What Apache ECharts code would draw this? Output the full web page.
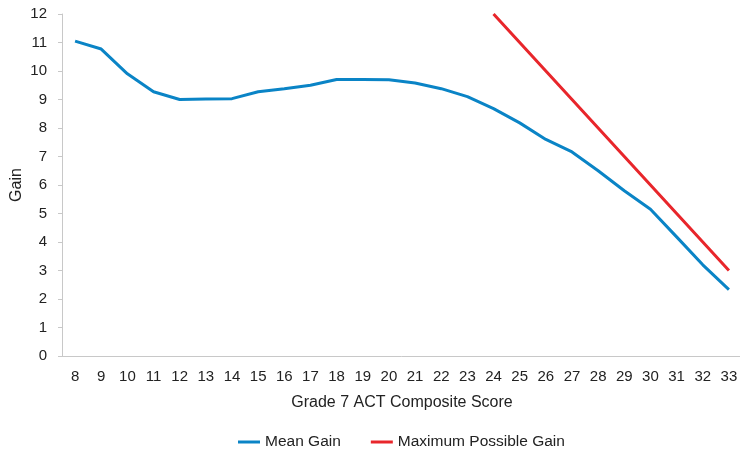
<!DOCTYPE html>
<html>
<head>
<meta charset="utf-8">
<script src="https://cdn.jsdelivr.net/npm/echarts@6/dist/echarts.min.js"></script>
<style>
html, body { margin: 0; padding: 0; background: #fff; }
#chart { width: 740px; height: 452px; }
</style>
</head>
<body>
<div id="chart"></div>
<script>
var scores = ['8', '9', '10', '11', '12', '13', '14', '15', '16', '17', '18', '19', '20',
    '21', '22', '23', '24', '25', '26', '27', '28', '29', '30', '31', '32', '33'];
var meanGain = [11.05, 10.77, 9.9, 9.27, 9.0, 9.02, 9.03, 9.27, 9.38, 9.5, 9.7, 9.7, 9.69,
    9.58, 9.38, 9.1, 8.68, 8.18, 7.6, 7.16, 6.5, 5.8, 5.15, 4.18, 3.2, 2.33];
var maxGain = [null, null, null, null, null, null, null, null, null, null, null, null, null,
    null, null, null, 12, 11, 10, 9, 8, 7, 6, 5, 4, 3];
var yTicks = [0, 12, 1];

var fontFam = '"Liberation Sans", Arial, sans-serif';
var myChart = echarts.init(document.getElementById('chart'));
var option = {
    animation: false,
    grid: {
        left: 62,
        right: -2,
        top: 14,
        bottom: 96,
        outerBoundsMode: 'none',
        containLabel: false
    },
    legend: {
        top: 429,
        left: 233,
        itemWidth: 22,
        itemHeight: 3,
        itemGap: 30,
        icon: 'rect',
        textStyle: { fontFamily: fontFam, fontSize: 15.5, color: '#222' },
        data: ['Mean Gain', 'Maximum Possible Gain']
    },
    xAxis: {
        type: 'category',
        data: scores,
        name: 'Grade 7 ACT Composite Score',
        nameLocation: 'middle',
        nameGap: 39,
        nameMoveOverlap: false,
        nameTextStyle: { fontFamily: fontFam, fontSize: 16, color: '#222' },
        axisLine: { lineStyle: { color: '#c8c8c8' } },
        axisTick: { show: false },
        axisLabel: { fontFamily: fontFam, fontSize: 15, color: '#222', margin: 13 }
    },
    yAxis: {
        type: 'value',
        min: yTicks[0],
        max: yTicks[1],
        interval: yTicks[2],
        name: 'Gain',
        nameLocation: 'middle',
        nameGap: 37,
        nameMoveOverlap: false,
        nameTextStyle: { fontFamily: fontFam, fontSize: 16, color: '#222' },
        splitLine: { show: false },
        axisLine: { show: true, lineStyle: { color: '#c8c8c8' } },
        axisTick: { show: true, length: 4, lineStyle: { color: '#c8c8c8' } },
        axisLabel: { fontFamily: fontFam, fontSize: 15, color: '#222', margin: 15 }
    },
    series: [{
        name: 'Mean Gain',
        type: 'line',
        data: meanGain,
        showSymbol: false,
        symbol: 'none',
        color: '#0a84c6',
        lineStyle: { width: 3 }
    }, {
        name: 'Maximum Possible Gain',
        type: 'line',
        data: maxGain,
        showSymbol: false,
        symbol: 'none',
        color: '#e8262b',
        lineStyle: { width: 3 }
    }]
};
myChart.setOption(option);
</script>
</body>
</html>
